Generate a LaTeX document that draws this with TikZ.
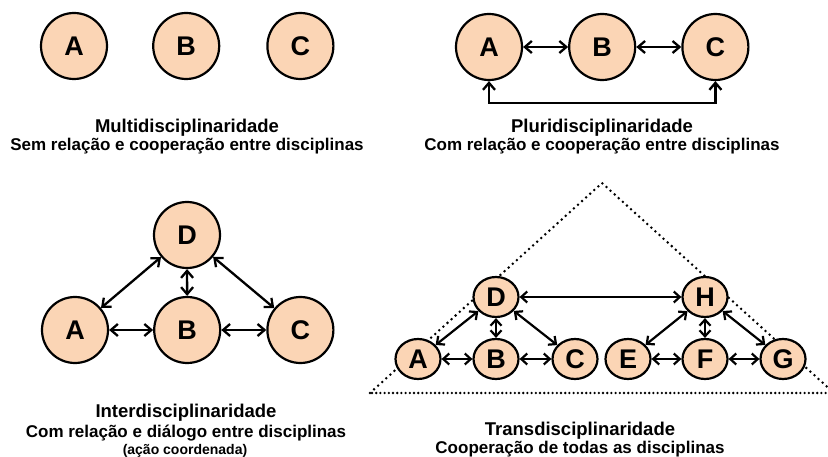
\documentclass[tikz,border=0pt]{standalone}
\usepackage{fontspec}
\setmainfont{Liberation Sans}
\usetikzlibrary{positioning, arrows.meta, shapes.geometric}
\definecolor{peach}{RGB}{251,213,181}

\begin{document}
\begin{tikzpicture}[
  x=1pt, y=-1pt,
  font=\bfseries,
  disc/.style={circle, draw=black, line width=2.2pt, fill=peach, minimum size=66pt,
               inner sep=0pt, font=\bfseries\fontsize{27}{27}\selectfont},
  sdisc/.style={ellipse, draw=black, line width=2.2pt, fill=peach, minimum width=45pt,
                minimum height=40pt, inner sep=0pt, font=\bfseries\fontsize{27}{27}\selectfont},
  ttl/.style={anchor=base, font=\bfseries\fontsize{18.5}{20}\selectfont},
  sub/.style={anchor=base, font=\bfseries\fontsize{17}{18}\selectfont},
  note/.style={anchor=base, font=\bfseries\fontsize{14}{15}\selectfont},
  arr/.style={{Straight Barb[length=7pt,width=12pt]}-{Straight Barb[length=7pt,width=12pt]}, line width=2.3pt},
  sarr/.style={{Straight Barb[length=6pt,width=11pt]}-{Straight Barb[length=6pt,width=11pt]}, line width=2.2pt},
  tri/.style={line width=2.8pt, dash pattern=on 0pt off 5.5pt, line cap=round},
  base/.style={line width=2.6pt, dash pattern=on 0pt off 4.2pt, line cap=round}
]
\useasboundingbox (0,0) rectangle (828,457);

% multidisciplinaridade
\node[disc] (ma) at (74,46) {A};
\node[disc, right=44pt of ma] (mb) {B};
\node[disc, right=46pt of mb] (mc) {C};
\node[ttl] (mt) at (187,133) {Multidisciplinaridade};
\node[sub] (ms) at (187,151) {Sem relação e cooperação entre disciplinas};

% pluridisciplinaridade
\node[disc] (pa) at (489,47) {A};
\node[disc, right=45pt of pa] (pb) {B};
\node[disc, right=45pt of pb] (pc) {C};
\draw[arr] (pa) -- (pb);
\draw[arr] (pb) -- (pc);
\draw[arr] (pa.south) -- ++(0,22) -| (pc.south);
\node[ttl] (pt) at (602,133) {Pluridisciplinaridade};
\node[sub] (ps) at (602,151) {Com relação e cooperação entre disciplinas};

% interdisciplinaridade
\node[disc] (id) at (187,235) {D};
\node[disc] (ia) at (75,330) {A};
\node[disc, right=44pt of ia] (ib) {B};
\node[disc, right=45pt of ib] (ic) {C};
\foreach \x/\y in {ia/ib, ib/ic, id/ia, id/ib, id/ic}{
  \draw[arr] (\x) -- (\y);}
\node[ttl] (it) at (186,417) {Interdisciplinaridade};
\node[sub] (is) at (186,437) {Com relação e diálogo entre disciplinas};
\node[note] (in) at (185,454) {(ação coordenada)};

% transdisciplinaridade
\draw[tri] (370,393) -- (602,183) -- (834,393);
\draw[base] (834,393) -- (370,393);
\node[sdisc] (ta) at (418,359) {A};
\node[sdisc] (tb) at (496,359) {B};
\node[sdisc] (tc) at (575,359) {C};
\node[sdisc] (te) at (628,359) {E};
\node[sdisc] (tf) at (705,359) {F};
\node[sdisc] (tg) at (783,359) {G};
\node[sdisc] (td) at (496,297) {D};
\node[sdisc] (th) at (705,297) {H};
\foreach \x/\y in {ta/tb, tb/tc, te/tf, tf/tg, td/ta, td/tb, td/tc,
                   th/te, th/tf, th/tg, td/th}{
  \draw[sarr] (\x) -- (\y);}
\node[ttl] (tt) at (580,435) {Transdisciplinaridade};
\node[sub] (ts) at (580,453) {Cooperação de todas as disciplinas};
\end{tikzpicture}
\end{document}
